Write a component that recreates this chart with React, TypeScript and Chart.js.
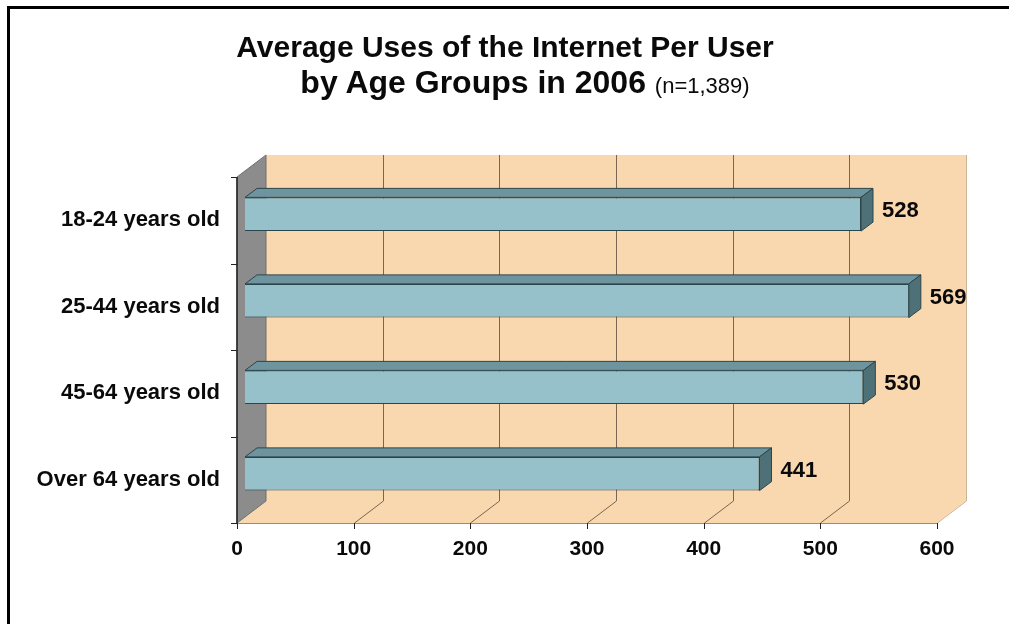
import React, { useEffect, useRef } from "react";
import { Chart, registerables } from "chart.js";

Chart.register(...registerables);

const categories = ["18-24 years old", "25-44 years old", "45-64 years old", "Over 64 years old"];
const values = [528, 569, 530, 441];
const xMin = 0;
const xMax = 600;
const xStep = 100;

const FONT = "'Liberation Sans', Arial, Helvetica, sans-serif";

// 3D geometry (pixels)
const BOX_DX = 29;
const BOX_DY = -22;
const BAR_FRONT_X = 8;
const BAR_FRONT_Y = -6;
const BAR_DX = 12;
const BAR_DY = -9;

const WALL = "#F9D8B0";
const SIDE_WALL = "#8C8C8C";
const GRID = "#7A6650";
const BAR_FRONT = "#96C0CA";
const BAR_TOP = "#6E959F";
const BAR_SIDE = "#4E7178";
const BAR_EDGE = "#2A454B";
const TEXT = "#0a0a0a";

const box3d = {
  id: "box3d",
  beforeDatasetsDraw(chart: any) {
    const { ctx, scales } = chart;
    const x = scales.x;
    const y = scales.y;
    const fx = (v: number) => x.getPixelForValue(v) - BAR_FRONT_X;
    const top = y.top - BAR_FRONT_Y;
    const bottom = y.bottom - BAR_FRONT_Y;
    const x0 = fx(x.min);
    const x1 = fx(x.max);
    ctx.save();
    // back wall
    ctx.fillStyle = WALL;
    ctx.fillRect(x0 + BOX_DX, top + BOX_DY, x1 - x0, bottom - top);
    // floor
    ctx.beginPath();
    ctx.moveTo(x0, bottom);
    ctx.lineTo(x1, bottom);
    ctx.lineTo(x1 + BOX_DX, bottom + BOX_DY);
    ctx.lineTo(x0 + BOX_DX, bottom + BOX_DY);
    ctx.closePath();
    ctx.fill();
    // left wall
    ctx.fillStyle = SIDE_WALL;
    ctx.beginPath();
    ctx.moveTo(x0, top);
    ctx.lineTo(x0 + BOX_DX, top + BOX_DY);
    ctx.lineTo(x0 + BOX_DX, bottom + BOX_DY);
    ctx.lineTo(x0, bottom);
    ctx.closePath();
    ctx.fill();
    ctx.strokeStyle = "#6E6E6E";
    ctx.lineWidth = 1;
    ctx.stroke();
    // grid lines
    x.ticks.forEach((t: any) => {
      const v = t.value;
      if (v <= x.min) return;
      const px = Math.round(fx(v)) + 0.5;
      ctx.strokeStyle = v >= x.max ? "#C9B49A" : GRID;
      ctx.lineWidth = 1;
      ctx.beginPath();
      ctx.moveTo(px + BOX_DX, top + BOX_DY);
      ctx.lineTo(px + BOX_DX, bottom + BOX_DY);
      ctx.lineTo(px, bottom);
      ctx.stroke();
    });
    // front floor edge
    ctx.strokeStyle = "#9A8A78";
    ctx.beginPath();
    ctx.moveTo(x0, bottom + 0.5);
    ctx.lineTo(x1, bottom + 0.5);
    ctx.stroke();
    // front axis line
    ctx.strokeStyle = "#222";
    ctx.lineWidth = 1.5;
    ctx.beginPath();
    ctx.moveTo(x0, top);
    ctx.lineTo(x0, bottom);
    ctx.stroke();
    // category ticks
    const band = (y.bottom - y.top) / categories.length;
    ctx.lineWidth = 1;
    for (let k = 0; k <= categories.length; k++) {
      const py = Math.round(top + k * band) + 0.5;
      ctx.beginPath();
      ctx.moveTo(x0 - 6, py);
      ctx.lineTo(x0, py);
      ctx.stroke();
    }
    // value ticks
    x.ticks.forEach((t: any) => {
      const px = Math.round(fx(t.value)) + 0.5;
      ctx.beginPath();
      ctx.moveTo(px, bottom);
      ctx.lineTo(px, bottom + 6);
      ctx.stroke();
    });
    ctx.restore();
  },
  afterDatasetsDraw(chart: any) {
    const { ctx } = chart;
    const meta = chart.getDatasetMeta(0);
    const data = chart.data.datasets[0].data;
    ctx.save();
    meta.data.forEach((el: any, i: number) => {
      const p = el.getProps(["x", "y", "base", "height"], true);
      const t = p.y - p.height / 2;
      const b = p.y + p.height / 2;
      ctx.lineWidth = 1;
      ctx.strokeStyle = BAR_EDGE;
      // top face
      ctx.fillStyle = BAR_TOP;
      ctx.beginPath();
      ctx.moveTo(p.base, t);
      ctx.lineTo(p.x, t);
      ctx.lineTo(p.x + BAR_DX, t + BAR_DY);
      ctx.lineTo(p.base + BAR_DX, t + BAR_DY);
      ctx.closePath();
      ctx.fill();
      ctx.stroke();
      // side face
      ctx.fillStyle = BAR_SIDE;
      ctx.beginPath();
      ctx.moveTo(p.x, t);
      ctx.lineTo(p.x + BAR_DX, t + BAR_DY);
      ctx.lineTo(p.x + BAR_DX, b + BAR_DY);
      ctx.lineTo(p.x, b);
      ctx.closePath();
      ctx.fill();
      ctx.stroke();
      // value label
      ctx.fillStyle = TEXT;
      ctx.font = `bold 22px ${FONT}`;
      ctx.textAlign = "left";
      ctx.textBaseline = "middle";
      ctx.fillText(String(data[i]), p.x + BAR_DX + 9, p.y - 3);
    });
    ctx.restore();
  },
};

export default function App() {
  const ref = useRef<HTMLCanvasElement | null>(null);
  useEffect(() => {
    if (!ref.current) return;
    const chart = new Chart(ref.current, {
      type: "bar",
      data: {
        labels: categories,
        datasets: [
          {
            data: values,
            backgroundColor: BAR_FRONT,
            borderColor: BAR_EDGE,
            borderWidth: 1,
            barPercentage: 0.39,
            categoryPercentage: 1,
          },
        ],
      },
      options: {
        indexAxis: "y",
        animation: false,
        responsive: false,
        events: [],
        layout: { padding: { top: 171, right: 64, left: 0, bottom: 0 } },
        plugins: {
          legend: { display: false },
          tooltip: { enabled: false },
          title: { display: false },
        },
        scales: {
          x: {
            min: xMin,
            max: xMax,
            grid: { display: false, drawTicks: false },
            border: { display: false },
            ticks: {
              stepSize: xStep,
              labelOffset: -BAR_FRONT_X,
              padding: 20,
              color: TEXT,
              font: { family: FONT, size: 21, weight: "bold" },
            },
            afterFit: (s: any) => {
              s.height = 107;
            },
          },
          y: {
            grid: { display: false, drawTicks: false },
            border: { display: false },
            ticks: {
              labelOffset: -BAR_FRONT_Y,
              padding: 25,
              color: TEXT,
              font: { family: FONT, size: 22, weight: "bold" },
            },
            afterFit: (s: any) => {
              s.width = 245;
            },
          },
        },
      },
      plugins: [box3d],
    } as any);
    return () => chart.destroy();
  }, []);

  return (
    <div
      style={{
        position: "fixed",
        left: 0,
        top: 0,
        width: 1009,
        height: 624,
        overflow: "hidden",
        background: "#fff",
      }}
    >
      <div
        style={{
          position: "absolute",
          left: 7,
          top: 6,
          width: 1100,
          height: 700,
          borderLeft: "3px solid #000",
          borderTop: "3px solid #000",
        }}
      />
      <canvas ref={ref} width={1009} height={624} style={{ position: "absolute", left: 0, top: 0 }} />
      <div
        style={{
          position: "absolute",
          left: 0,
          top: 32,
          width: 1010,
          textAlign: "center",
          fontFamily: FONT,
          fontWeight: "bold",
          fontSize: 30,
          lineHeight: "30px",
          color: TEXT,
          whiteSpace: "nowrap",
        }}
      >
        Average Uses of the Internet Per User
      </div>
      <div
        style={{
          position: "absolute",
          left: 20,
          top: 66,
          width: 1010,
          textAlign: "center",
          fontFamily: FONT,
          fontWeight: "bold",
          fontSize: 32,
          lineHeight: "32px",
          color: TEXT,
          whiteSpace: "nowrap",
        }}
      >
        by Age Groups in 2006{" "}
        <span style={{ fontSize: 22, fontWeight: "normal" }}>(n=1,389)</span>
      </div>
    </div>
  );
}
